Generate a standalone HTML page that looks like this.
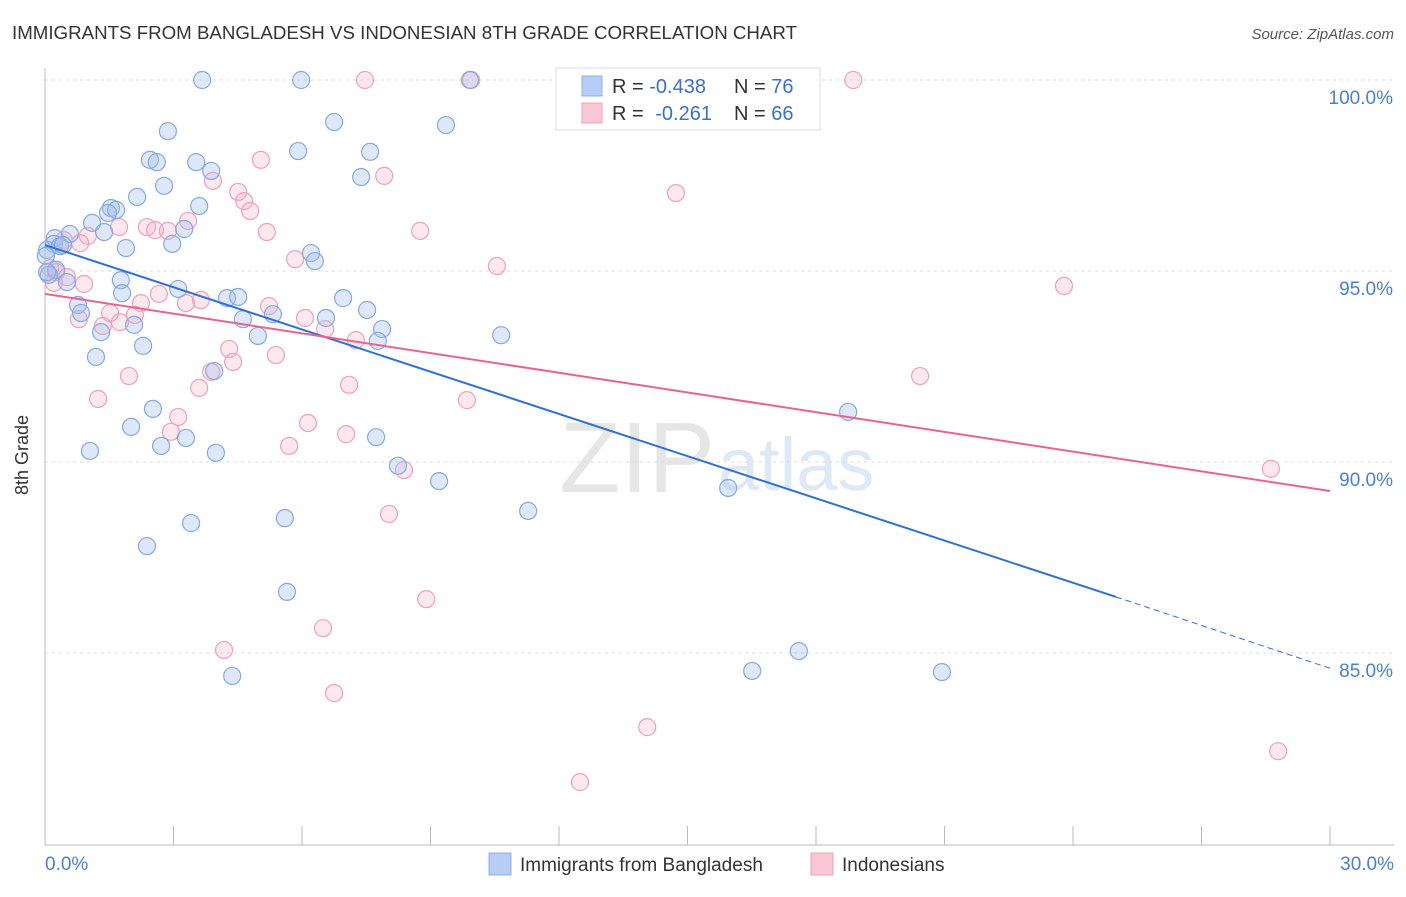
<!DOCTYPE html>
<html><head><meta charset="utf-8"><style>
body{margin:0;background:#fff;font-family:"Liberation Sans",sans-serif;}
svg text{font-family:"Liberation Sans",sans-serif;}
</style></head><body>
<svg id="chart" width="1406" height="892" xmlns="http://www.w3.org/2000/svg">
<text x="12" y="39" font-size="18" fill="#333" textLength="785" lengthAdjust="spacingAndGlyphs">IMMIGRANTS FROM BANGLADESH VS INDONESIAN 8TH GRADE CORRELATION CHART</text>
<text x="1394" y="39" font-size="15" fill="#555" text-anchor="end" font-style="italic">Source: ZipAtlas.com</text>
<text x="715" y="492" font-size="100" fill="#e6e6e6" text-anchor="end" font-family="Liberation Serif">ZIP</text>
<text x="718" y="490" font-size="74" fill="#dfe8f5">atlas</text>
<g id="grid"></g>
<g id="axes"></g>
<g id="pts"></g>
<g id="trend"></g>
<text x="28" y="455" font-size="18" fill="#333" text-anchor="middle" transform="rotate(-90 28 455)">8th Grade</text>
<text x="45" y="870" font-size="19" fill="#4a7fd6">0.0%</text>
<text x="1394" y="870" font-size="19" fill="#4a7fd6" text-anchor="end">30.0%</text>
<g>
<rect x="556" y="68" width="264" height="62" fill="#fff" stroke="#ddd"/>
<rect x="582" y="76" width="20" height="20" fill="#b8cdf3" stroke="#8fb0e6"/>
<rect x="582" y="103" width="20" height="20" fill="#f9c6d6" stroke="#f0a0bc"/>
<text x="612" y="93" font-size="20" fill="#333">R = <tspan fill="#3a6fd0">-0.438</tspan><tspan x="734">N = </tspan><tspan fill="#3a6fd0">76</tspan></text>
<text x="612" y="120" font-size="20" fill="#333">R = <tspan fill="#3a6fd0" dx="6">-0.261</tspan><tspan x="734">N = </tspan><tspan fill="#3a6fd0">66</tspan></text>
</g>
<g>
<rect x="489" y="853" width="22" height="22" fill="#b8cdf3" stroke="#8fb0e6"/>
<text x="520" y="871" font-size="19" fill="#333">Immigrants from Bangladesh</text>
<rect x="811" y="853" width="22" height="22" fill="#f9c6d6" stroke="#f0a0bc"/>
<text x="842" y="871" font-size="19" fill="#333">Indonesians</text>
</g>
</svg>
<script>
const yTicks=[85,90,95,100];
const yTickLabels=["85.0%","90.0%","95.0%","100.0%"];
const xTicks=[0,3,6,9,12,15,18,21,24,27,30];
const blueX=[3.67,5.98,9.92,2.87,6.75,9.36,2.45,2.61,3.53,5.91,7.59,3.88,2.78,7.38,2.15,3.60,1.54,1.66,1.47,1.10,0.58,1.38,0.23,0.21,1.89,2.97,3.25,6.21,6.30,0.05,0.35,0.42,0.26,0.51,1.77,0.09,1.80,3.11,4.25,4.51,6.96,0.77,0.84,4.62,5.32,6.56,7.52,2.08,1.31,4.97,7.87,7.77,10.65,2.29,1.19,3.95,2.52,18.75,2.01,3.29,7.73,2.71,1.05,3.99,8.24,9.20,15.95,11.28,3.41,5.60,2.38,5.65,17.60,16.51,20.94,4.37,0.02,0.05];
const blueY=[100,100,100,98.66,98.90,98.82,97.91,97.85,97.85,98.14,98.12,97.62,97.23,97.46,96.94,96.70,96.65,96.60,96.52,96.26,95.97,96.02,95.86,95.71,95.60,95.71,96.10,95.47,95.26,95.55,95.65,95.68,95.03,94.71,94.76,94.90,94.42,94.53,94.29,94.32,94.29,94.11,93.90,93.74,93.87,93.77,93.98,93.59,93.40,93.30,93.48,93.17,93.32,93.04,92.75,92.38,91.39,91.31,90.92,90.63,90.65,90.42,90.29,90.24,89.90,89.50,89.32,88.72,88.40,88.53,87.80,86.60,85.05,84.53,84.50,84.40,95.4,94.97];
const pinkX=[7.47,9.95,18.87,5.04,3.92,7.92,4.51,4.65,4.79,14.73,3.34,2.38,2.57,2.87,1.73,5.18,8.76,1.00,0.44,0.82,5.84,10.55,0.26,0.51,0.91,2.66,3.64,5.23,2.24,3.29,23.79,1.52,2.10,6.07,6.54,0.79,1.75,1.35,7.26,4.30,5.39,4.39,3.88,1.96,20.43,3.60,7.10,1.24,9.85,3.11,6.14,2.94,7.03,5.70,8.38,28.62,8.03,8.90,6.49,4.18,6.75,14.06,12.49,28.79,0.21,0.12];
const pinkY=[100,100,100,97.91,97.36,97.49,97.07,96.83,96.57,97.04,96.31,96.15,96.07,96.05,96.15,96.02,96.05,95.92,95.81,95.73,95.31,95.13,94.97,94.84,94.66,94.40,94.24,94.08,94.16,94.16,94.61,93.90,93.85,93.77,93.48,93.74,93.66,93.56,93.19,92.96,92.80,92.62,92.36,92.25,92.25,91.94,92.02,91.65,91.62,91.18,91.02,90.79,90.73,90.42,89.79,89.82,88.64,86.41,85.65,85.08,83.95,83.06,81.62,82.43,94.69,95.08];
const blueTrend=[[0,95.68],[25,86.47],[30,84.6]];
const pinkTrend=[[0,94.40],[30,89.24]];

const NS="http://www.w3.org/2000/svg";
const X0=45,X1=1330,Y100=80,Y85=653;
const sx=v=>X0+(X1-X0)*v/30;
const sy=v=>Y100+(100-v)*(Y85-Y100)/15;
function mk(tag,attrs,parent){const e=document.createElementNS(NS,tag);for(const k in attrs)e.setAttribute(k,attrs[k]);parent.appendChild(e);return e;}
const grid=document.getElementById('grid'),axes=document.getElementById('axes'),pts=document.getElementById('pts'),tr=document.getElementById('trend');
yTicks.forEach((t,i)=>{
 const l=mk('line',{x1:X0,x2:1394,y1:sy(t),y2:sy(t),stroke:'#ddd','stroke-dasharray':'3,4'},grid);
 
 
 const tx=mk('text',{x:1393,y:sy(t)+24,'font-size':19,fill:'#4a7fd6','text-anchor':'end'},grid);
 tx.textContent=yTickLabels[i];
 
 
});
const ya=mk('line',{x1:X0,x2:X0,y1:68,y2:845,stroke:'#bbb'},axes);


const xa=mk('line',{x1:X0,x2:1394,y1:845,y2:845,stroke:'#bbb'},axes);


xTicks.forEach(t=>{
 const l=mk('line',{x1:sx(t),x2:sx(t),y1:826,y2:845,stroke:'#bbb'},axes);
 
 
});
function drawPts(xs,ys,fill,stroke,name){
 xs.forEach((x,i)=>{
  const c=mk('circle',{cx:sx(x),cy:sy(ys[i]),r:8.5,fill:fill,stroke:stroke,'stroke-width':1.2},pts);
  
  
 });
}
drawPts(pinkX,pinkY,'rgba(248,180,200,0.3)','#f0a0bc','point-indonesians');
drawPts(blueX,blueY,'rgba(160,190,240,0.35)','#86a9e4','point-bangladesh');
const b1=mk('line',{x1:sx(blueTrend[0][0]),y1:sy(blueTrend[0][1]),x2:sx(blueTrend[1][0]),y2:sy(blueTrend[1][1]),stroke:'#2f6fd8','stroke-width':2},tr);


const b2=mk('line',{x1:sx(blueTrend[1][0]),y1:sy(blueTrend[1][1]),x2:sx(blueTrend[2][0]),y2:sy(blueTrend[2][1]),stroke:'#2f6fd8','stroke-width':1,'stroke-dasharray':'6,4'},tr);


const p1=mk('line',{x1:sx(pinkTrend[0][0]),y1:sy(pinkTrend[0][1]),x2:sx(pinkTrend[1][0]),y2:sy(pinkTrend[1][1]),stroke:'#e8648e','stroke-width':2},tr);


</script>
</body></html>
